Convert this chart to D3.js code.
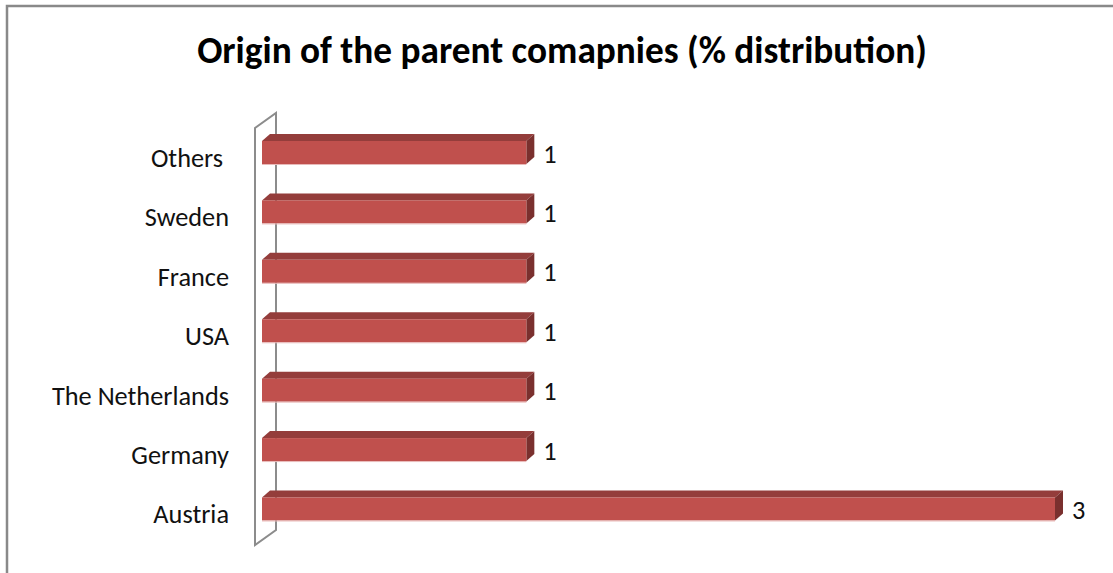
<!DOCTYPE html>
<html>
<head>
<meta charset="utf-8">
<script src="https://cdn.jsdelivr.net/npm/d3@7"></script>
<style>
  html, body { margin: 0; padding: 0; background: #fff; }
  svg { display: block; }
  text { font-family: Calibri, Carlito, "Open Sans", "Noto Sans", sans-serif; fill: #000; white-space: pre; }
</style>
</head>
<body>
<svg id="chart" width="1113" height="573"></svg>
<script>
// Origin of the parent companies
const categories = ["Others ", "Sweden", "France", "USA", "The Netherlands", "Germany", "Austria"];
const values = [1, 1, 1, 1, 1, 1, 3];
const titleText = "Origin of the parent comapnies (% distribution)";

const svg = d3.select("#chart");
const W = 1113, H = 573;

// outer chart frame
svg.append("rect")
  .attr("x", 7).attr("y", 6).attr("width", W + 10).attr("height", H + 10)
  .attr("fill", "#fff").attr("stroke", "#898989").attr("stroke-width", 2.5);

// title
const title = svg.append("text")
  .attr("x", 562).attr("y", 62.5)
  .attr("text-anchor", "middle")
  .style("font-weight", "bold")
  .style("font-size", "28px")
  .text(titleText);
{
  const w = title.node().getComputedTextLength();
  title.style("font-size", (28 * 730 / w).toFixed(2) + "px");
}

// scales
const x = d3.scaleLinear().domain([0, 3]).range([262, 1055]);
const y = d3.scalePoint().domain(categories).range([122.8, 538.7]).padding(0.5);
const barH = 23;
const dx = 8, dy = -7;      // bar depth
const wdx = 21, wdy = -15;  // axis wall depth

// axis wall (3D side panel)
const wallTop = 128, wallBot = 545, wallX = 255;
const wall = svg.append("g").attr("fill", "none").attr("stroke", "#8c8c8c").attr("stroke-width", 2);
wall.append("path").attr("d",
  `M${wallX},${wallBot} L${wallX},${wallTop} L${wallX + wdx},${wallTop + wdy} L${wallX + wdx},${wallBot + wdy} Z`);

// bars
const bars = svg.append("g").selectAll("g").data(categories).join("g");
const x0 = x(0);
bars.append("path") // top face
  .attr("fill", "#943d3b")
  .attr("d", (c, i) => {
    const yt = y(c) - barH / 2, xe = x(values[i]);
    return `M${x0},${yt} L${x0 + dx},${yt + dy} L${xe + dx},${yt + dy} L${xe},${yt} Z`;
  });
bars.append("path") // right face
  .attr("fill", "#7a302e")
  .attr("d", (c, i) => {
    const yt = y(c) - barH / 2, xe = x(values[i]);
    return `M${xe},${yt} L${xe + dx},${yt + dy} L${xe + dx},${yt + dy + barH} L${xe},${yt + barH} Z`;
  });
bars.append("rect") // front face
  .attr("fill", "#c0504d")
  .attr("x", x0)
  .attr("y", c => y(c) - barH / 2)
  .attr("width", (c, i) => x(values[i]) - x0)
  .attr("height", barH);
bars.append("line") // soft lower edge
  .attr("stroke", "#e8b9b8").attr("stroke-width", 1)
  .attr("x1", x0).attr("x2", (c, i) => x(values[i]))
  .attr("y1", c => y(c) + barH / 2 + 0.5).attr("y2", c => y(c) + barH / 2 + 0.5);

// value labels
bars.append("text")
  .attr("x", (c, i) => x(values[i]) + 17)
  .attr("y", c => y(c) + 10)
  .style("font-size", "20px")
  .style("fill", "#111")
  .text((c, i) => values[i]);

// category labels
const labels = svg.append("g").selectAll("text").data(categories).join("text")
  .attr("x", 229)
  .attr("y", c => y(c) + 14.5)
  .attr("text-anchor", "end")
  .style("font-size", "20px")
  .style("fill", "#111")
  .text(c => c);
{
  const ref = labels.filter(c => c === "The Netherlands").node();
  const w = ref.getComputedTextLength();
  const fs = 20 * 177 / w;
  labels.style("font-size", fs.toFixed(2) + "px");
  bars.selectAll("text").style("font-size", fs.toFixed(2) + "px");
}
</script>
</body>
</html>
